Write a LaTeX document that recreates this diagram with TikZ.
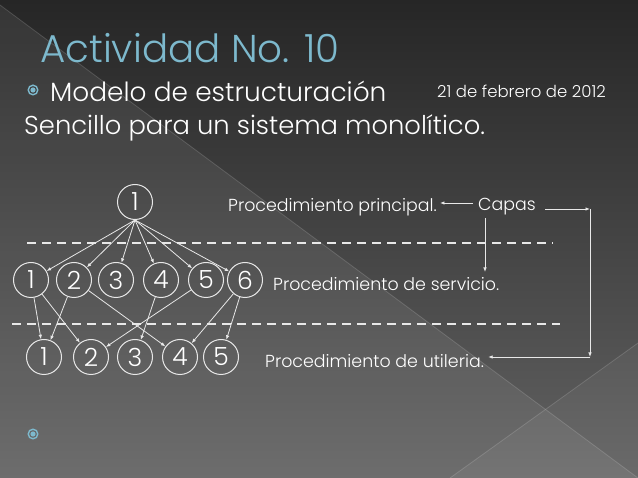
\documentclass[tikz,border=0pt]{standalone}
\usepackage{fontspec}
\setmainfont{Poppins}[UprightFont=* Light]
\usetikzlibrary{arrows.meta}

\definecolor{titulo}{HTML}{7DB9CD}
\definecolor{linea}{HTML}{E8E8E8}
\definecolor{fondoarriba}{HTML}{262626}
\definecolor{fondoabajo}{HTML}{626262}

\tikzset{
  num/.style={circle, draw=linea, line width=1pt, minimum size=35pt, inner sep=0pt,
    text=white, font=\fontsize{25}{25}\selectfont},
  etiq/.style={anchor=west, inner sep=0pt, text=white, font=\fontsize{17.4}{17.4}\selectfont},
  flecha/.style={-{Latex[length=4.5pt,width=3.5pt]}, draw=linea, line width=0.8pt},
  capa/.style={draw=linea, line width=2pt, dash pattern=on 9pt off 6pt},
  vineta/.style={draw=titulo, line width=1.4pt}
}

\begin{document}
\begin{tikzpicture}[x=1pt, y=-1pt]

  % Fondo
  \useasboundingbox (0,0) rectangle (638,478);
  \shade[top color=fondoarriba, bottom color=fondoabajo] (0,0) rectangle (638,478);
  \fill[white, opacity=0.07] (0,5) -- (638,478) -- (0,478) -- cycle;
  \fill[white, opacity=0.05] (638,343) -- (450,478) -- (638,478) -- cycle;
  \draw[white, opacity=0.15, line width=0.8pt] (0,5) -- (638,478);
  \draw[white, opacity=0.15, line width=0.8pt] (638,343) -- (450,478);

  % Titulo y texto
  \node[anchor=base west, inner sep=0pt, text=titulo, font=\fontsize{38.8}{38.8}\selectfont]
    (tit) at (40,63) {Actividad No. 10};
  \draw[vineta] (33,90) circle (4.8);
  \fill[titulo] (33,90) circle (2.6);
  \node[anchor=base west, inner sep=0pt, text=white, font=\fontsize{26.4}{26.4}\selectfont]
    (modelo) at (50,102) {Modelo de estructuración};
  \node[anchor=base west, inner sep=0pt, text=white, font=\fontsize{16.5}{16.5}\selectfont]
    (fecha) at (437,98) {21 de febrero de 2012};
  \node[anchor=base west, inner sep=0pt, text=white, font=\fontsize{25.8}{25.8}\selectfont]
    (sencillo) at (24,135) {Sencillo para un sistema monolítico.};
  \draw[vineta] (33,434) circle (4.8);
  \fill[titulo] (33,434) circle (2.6);

  % Capas (lineas punteadas)
  \draw[capa] (27,243) -- (553,243);
  \draw[capa] (12,324) -- (560,324);

  % Procedimiento principal
  \node[num] (p) at (135,202) {1};

  % Procedimientos de servicio
  \node[num] (s1) at (31,280) {1};
  \node[num] (s2) at (74,280) {2};
  \node[num] (s3) at (116,280) {3};
  \node[num] (s4) at (161,280) {4};
  \node[num] (s5) at (206,280) {5};
  \node[num] (s6) at (245,280) {6};

  % Procedimientos de utileria
  \node[num] (u1) at (44,357) {1};
  \node[num] (u2) at (91,357) {2};
  \node[num] (u3) at (135,357) {3};
  \node[num] (u4) at (180,357) {4};
  \node[num] (u5) at (221,357) {5};

  % Llamadas
  \foreach \s in {s1,s2,s3,s4,s5,s6}
    \draw[flecha] (p.south) -- (\s);
  \draw[flecha] (s1) -- (u1);
  \draw[flecha] (s1) -- (u2);
  \draw[flecha] (s2) -- (u1);
  \draw[flecha] (s2) -- (u4);
  \draw[flecha] (s4) -- (u3);
  \draw[flecha] (s5) -- (u2);
  \draw[flecha] (s6) -- (u4);
  \draw[flecha] (s6) -- (u5);

  % Etiquetas
  \node[etiq] (principal) at (228,207) {Procedimiento principal.};
  \node[etiq] (servicio) at (273,284) {Procedimiento de servicio.};
  \node[etiq] (utileria) at (265,361) {Procedimiento de utileria.};
  \node[etiq] (capas) at (478,207) {Capas};

  % Flechas de capas
  \coordinate (izq) at (473,203);
  \coordinate (der) at (545,209);
  \coordinate (esq1) at (590,209);
  \coordinate (esq2) at (590,357);
  \coordinate (baja1) at (485,218);
  \coordinate (baja2) at (485,272);
  \draw[flecha] (izq) -- ([xshift=3pt]principal.east |- izq);
  \draw[flecha] (der) -- (esq1);
  \draw[flecha] (esq1) -- (esq2);
  \draw[flecha] (esq2) -- ([xshift=4pt]utileria.east |- esq2);
  \draw[flecha] (baja1) -- (baja2);

\end{tikzpicture}
\end{document}
